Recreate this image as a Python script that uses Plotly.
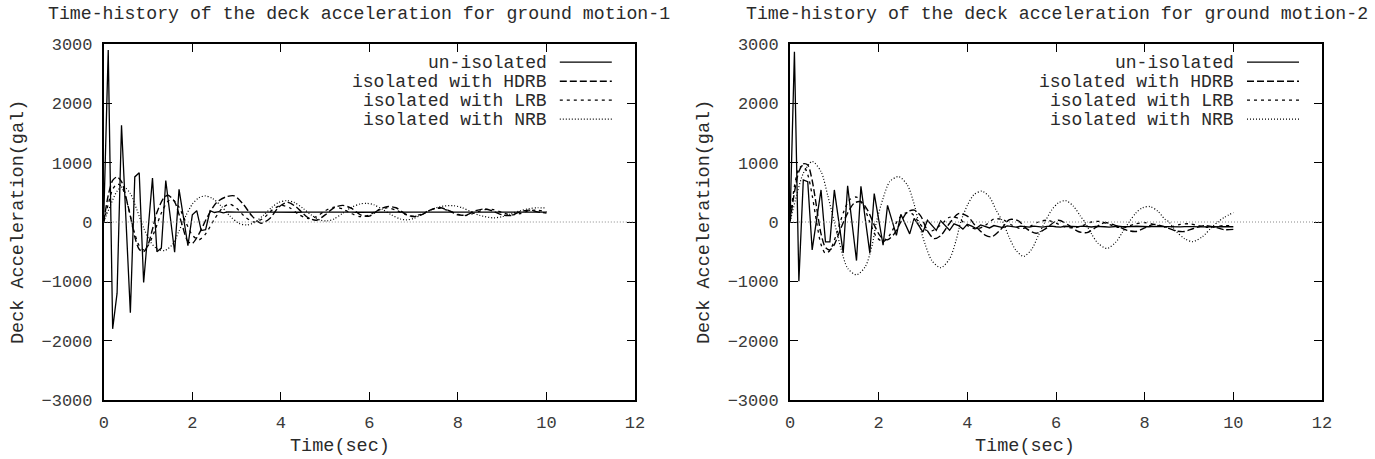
import plotly.graph_objects as go

# ---------------- data ----------------
TIME_FINE = [0.0, 0.1, 0.2, 0.3, 0.4, 0.5, 0.6, 0.7, 0.8, 0.9,
             1.0, 1.1, 1.2, 1.3, 1.4, 1.5, 1.6, 1.7, 1.8, 1.9,
             2.0, 2.1, 2.2, 2.3, 2.4, 2.5, 2.6, 2.7, 2.8, 2.9,
             3.0, 3.1, 3.2, 3.3, 3.4, 3.5, 3.6, 3.7, 3.8, 3.9,
             4.0, 4.1, 4.2, 4.3, 4.4, 4.5, 4.6, 4.7, 4.8, 4.9,
             5.0, 5.1, 5.2, 5.3, 5.4, 5.5, 5.6, 5.7, 5.8, 5.9,
             6.0, 6.1, 6.2, 6.3, 6.4, 6.5, 6.6, 6.7, 6.8, 6.9,
             7.0, 7.1, 7.2, 7.3, 7.4, 7.5, 7.6, 7.7, 7.8, 7.9,
             8.0, 8.1, 8.2, 8.3, 8.4, 8.5, 8.6, 8.7, 8.8, 8.9,
             9.0, 9.1, 9.2, 9.3, 9.4, 9.5, 9.6, 9.7, 9.8, 9.9, 10.0]

# ground motion-1
GM1_UNISO = [100, 2900, -1800, -1200, 1630, 50, -1530, 760, 830, -1020,
             -140, 740, -500, -440, 700, 100, -510, 550, 80, -400,
             120, 190, -145, -130, 190, 160, 175, 155, 170, 165,
             165, 168, 165, 163, 166, 165, 165, 167, 165, 164,
             165, 166, 165, 165, 164, 165, 166, 165, 165, 165,
             165, 164, 165, 166, 165, 165, 165, 164, 165, 165,
             166, 165, 165, 165, 164, 165, 165, 166, 165, 165,
             165, 165, 164, 165, 165, 166, 165, 165, 165, 164,
             165, 165, 166, 165, 165, 165, 164, 165, 165, 165,
             166, 165, 165, 165, 164, 165, 165, 166, 165, 165, 165]

GM1_HDRB_T = [0, 0.1, 0.2, 0.3, 0.4, 0.5, 0.6, 0.7, 0.8, 0.9, 1.0, 1.1, 1.2, 1.35, 1.45, 1.6, 1.75, 1.9, 2.0,
              2.15, 2.35, 2.55, 2.75, 2.95, 3.15, 3.35, 3.55, 3.75, 3.95, 4.15, 4.35, 4.6, 4.8, 5.0, 5.2, 5.4,
              5.6, 5.8, 6.0, 6.2, 6.4, 6.6, 6.8, 7.0, 7.2, 7.4, 7.6, 7.8, 8.0, 8.2, 8.4, 8.6, 8.8, 9.0, 9.2,
              9.4, 9.6, 9.8, 10.0]
GM1_HDRB = [0, 450, 700, 760, 680, 420, 100, -250, -460, -500, -380, -120, 160, 400, 450, 340, 0, -330, -360,
            -200, 100, 330, 420, 440, 300, 100, -20, 60, 250, 330, 250, 80, 30, 120, 240, 280,
            230, 120, 100, 200, 260, 240, 140, 90, 130, 210, 240, 190, 120, 120, 190, 220, 180, 120, 110,
            170, 200, 170, 150]

GM1_LRB_T = [0, 0.1, 0.2, 0.3, 0.4, 0.5, 0.6, 0.7, 0.8, 0.9, 1.0, 1.15, 1.3, 1.45, 1.55, 1.7, 1.85, 2.0, 2.15,
             2.3, 2.5, 2.7, 2.85, 3.0, 3.2, 3.4, 3.6, 3.8, 4.0, 4.2, 4.4, 4.6, 4.8, 5.0, 5.2, 5.4, 5.6, 5.8,
             6.0, 6.2, 6.4, 6.6, 6.8, 7.0, 7.2, 7.4, 7.6, 7.8, 8.0, 8.2, 8.4, 8.6, 8.8, 9.0, 9.2, 9.4, 9.6,
             9.8, 10.0]
GM1_LRB = [0, 300, 550, 640, 600, 400, 100, -200, -400, -470, -400, -150, 150, 350, 380, 250, 0, -220, -300,
           -200, 50, 250, 300, 230, 80, 0, 60, 200, 280, 240, 130, 60, 90, 190, 250, 220, 140, 90,
           120, 200, 240, 200, 130, 100, 140, 210, 230, 190, 130, 110, 160, 210, 210, 160, 120, 140, 190,
           200, 170]

GM1_NRB_T = [0, 0.15, 0.3, 0.44, 0.6, 0.75, 0.9, 1.05, 1.2, 1.38, 1.55, 1.7, 1.85, 2.0, 2.15, 2.29, 2.45, 2.65,
             2.85, 3.05, 3.23, 3.4, 3.6, 3.8, 3.95, 4.13, 4.3, 4.5, 4.7, 4.9, 5.05, 5.2, 5.4, 5.6, 5.8, 5.94,
             6.1, 6.3, 6.5, 6.7, 6.85, 7.0, 7.2, 7.4, 7.6, 7.9, 8.1, 8.3, 8.5, 8.8, 9.0, 9.2, 9.4, 9.6, 9.8, 10.0]
GM1_NRB = [0, 280, 520, 600, 480, 200, -100, -330, -450, -480, -380, -150, 100, 300, 410, 440, 400, 270,
           100, -20, -50, -10, 110, 250, 330, 360, 330, 230, 110, 30, 20, 50, 150, 250, 305, 315,
           290, 210, 120, 50, 35, 60, 130, 210, 260, 275, 240, 170, 110, 70, 90, 140, 190, 225, 240, 235]

# ground motion-2
GM2_UNISO = [0, 2870, -1000, 710, 680, -470, 40, 540, -335, -335,
             540, 0, -520, 610, 0, -650, 600, 40, -520, 480,
             40, -390, 280, 30, -225, 130, -30, -200, 60, -60,
             -170, 30, -60, -140, 20, -60, -140, -30, -60, -120,
             -40, -70, -110, -50, -80, -100, -60, -80, -95, -65,
             -75, -85, -70, -80, -85, -70, -75, -85, -75, -70,
             -80, -85, -72, -75, -82, -78, -70, -80, -84, -75,
             -72, -80, -85, -76, -72, -80, -84, -78, -72, -78,
             -84, -80, -74, -76, -82, -80, -75, -78, -82, -78,
             -74, -78, -82, -80, -76, -78, -82, -80, -78, -80, -80]

GM2_HDRB_T = [0, 0.1, 0.2, 0.3, 0.4, 0.5, 0.6, 0.7, 0.8, 0.9, 1.0, 1.15, 1.3, 1.45, 1.6, 1.75, 1.9, 2.05, 2.2,
              2.35, 2.5, 2.65, 2.8, 2.95, 3.1, 3.25, 3.4, 3.6, 3.8, 4.0, 4.2, 4.4, 4.55, 4.75, 4.95, 5.15,
              5.35, 5.55, 5.75, 6.05, 6.3, 6.5, 6.7, 6.9, 7.1, 7.35, 7.6, 7.8, 8.0, 8.2, 8.45, 8.7, 8.9, 9.1,
              9.35, 9.6, 9.8, 10.0]
GM2_HDRB = [0, 500, 850, 980, 960, 700, 250, -200, -430, -470, -380, -100, 150, 320, 340, 200, -50, -250, -300,
            -200, 0, 170, 200, 100, -150, -280, -230, -20, 140, 100, -80, -220, -250, -130, 40, 20,
            -120, -190, -120, 30, -60, -160, -180, -90, -10, -60, -140, -160, -100, -40, -80, -150, -160, -110,
            -60, -90, -130, -125]

GM2_LRB_T = [0, 0.1, 0.2, 0.3, 0.4, 0.5, 0.6, 0.7, 0.8, 0.9, 1.05, 1.2, 1.35, 1.5, 1.65, 1.8, 1.95, 2.1, 2.25,
             2.45, 2.6, 2.75, 2.9, 3.05, 3.2, 3.4, 3.6, 3.8, 4.0, 4.2, 4.4, 4.6, 4.8, 5.0, 5.2, 5.4, 5.6, 5.8,
             6.0, 6.2, 6.4, 6.6, 6.8, 7.0, 7.2, 7.4, 7.6, 7.8, 8.0, 8.2, 8.4, 8.6, 8.8, 9.0, 9.2, 9.4, 9.6,
             9.8, 10.0]
GM2_LRB = [0, 600, 900, 950, 800, 450, 0, -380, -530, -480, -200, 150, 380, 420, 280, 0, -250, -330, -220,
           50, 150, 140, 0, -130, -150, -50, 80, 60, -60, -120, -60, 50, 40, -50, -110, -80, 0, 30,
           -20, -80, -100, -60, 0, 10, -40, -90, -80, -30, -10, -40, -80, -80, -40, -30, -60, -90, -80,
           -60, -70]

GM2_NRB_T = [0, 0.15, 0.3, 0.5, 0.7, 0.85, 1.0, 1.15, 1.3, 1.5, 1.7, 1.85, 1.95, 2.1, 2.25, 2.45, 2.65, 2.8,
             2.9, 3.05, 3.2, 3.4, 3.6, 3.75, 3.85, 4.0, 4.15, 4.33, 4.5, 4.65, 4.8, 4.95, 5.1, 5.27, 5.45,
             5.6, 5.75, 5.9, 6.05, 6.22, 6.4, 6.55, 6.65, 6.8, 6.95, 7.15, 7.35, 7.5, 7.65, 7.8, 7.95, 8.12,
             8.3, 8.45, 8.55, 8.7, 8.9, 9.08, 9.3, 9.5, 9.65, 9.8, 10.0]
GM2_NRB = [0, 450, 820, 1020, 850, 450, 0, -450, -780, -890, -750, -400, 0, 400, 680, 765, 620, 300,
           0, -380, -650, -770, -620, -300, 0, 280, 460, 520, 420, 200, 0, -270, -480, -580, -460,
           -230, 0, 200, 320, 360, 260, 100, 0, -200, -360, -445, -340, -170, 0, 150, 240, 260,
           180, 50, 0, -150, -280, -330, -250, -100, 0, 80, 160]

SERIES_NAMES = ["un-isolated", "isolated with HDRB", "isolated with LRB", "isolated with NRB"]
TITLES = ["Time-history of the deck acceleration for ground motion-1",
          "Time-history of the deck acceleration for ground motion-2"]
X_TICKS = [0, 2, 4, 6, 8, 10, 12]
Y_TICKS = [-3000, -2000, -1000, 0, 1000, 2000, 3000]

# ---------------- styling ----------------
W, H = 1375, 459
FONT = "Liberation Mono"
DASHES = ["solid", "7px,3px", "3px,4px", "1px,2px"]
WIDTHS = [1.3, 1.4, 1.3, 1.2]

LEFT = (103.8, 635.0)
RIGHT = (790.0, 1322.0)
TOP, BOT = 44.0, 400.0

def px(x):
    return x / W

def py(y):
    return 1 - y / H

fig = go.Figure()

panels = [
    ("x", "y", [(TIME_FINE, GM1_UNISO), (GM1_HDRB_T, GM1_HDRB), (GM1_LRB_T, GM1_LRB), (GM1_NRB_T, GM1_NRB)]),
    ("x2", "y2", [(TIME_FINE, GM2_UNISO), (GM2_HDRB_T, GM2_HDRB), (GM2_LRB_T, GM2_LRB), (GM2_NRB_T, GM2_NRB)]),
]

for xa, ya, series in panels:
    for i, (tt, vv) in enumerate(series):
        fig.add_trace(go.Scatter(
            x=tt, y=vv, mode="lines", name=SERIES_NAMES[i], showlegend=False,
            xaxis=xa, yaxis=ya,
            line=dict(color="black", width=WIDTHS[i], dash=DASHES[i],
                      shape="linear" if i == 0 else "spline", smoothing=0.8),
        ))

axis_common = dict(
    showgrid=False, zeroline=False, showline=True, linecolor="black", linewidth=1.8,
    mirror="allticks", ticks="inside", ticklen=8, tickwidth=1, tickcolor="black",
    tickfont=dict(family=FONT, size=17, color="#3a3a3a"), automargin=False,
)

fig.update_layout(
    width=W, height=H, margin=dict(l=0, r=0, t=0, b=0, pad=0),
    paper_bgcolor="white", plot_bgcolor="white", showlegend=False,
    xaxis=dict(domain=[px(LEFT[0]), px(LEFT[1])], range=[0, 12], tickvals=X_TICKS,
               anchor="y", ticklabelstandoff=6, **axis_common),
    yaxis=dict(domain=[py(BOT), py(TOP)], range=[-3000, 3000], tickvals=Y_TICKS,
               anchor="x", ticklabelstandoff=6, **axis_common),
    xaxis2=dict(domain=[px(RIGHT[0]), px(RIGHT[1])], range=[0, 12], tickvals=X_TICKS,
                anchor="y2", ticklabelstandoff=6, **axis_common),
    yaxis2=dict(domain=[py(BOT), py(TOP)], range=[-3000, 3000], tickvals=Y_TICKS,
                anchor="x2", ticklabelstandoff=6, **axis_common),
)

annotations = []
shapes = []
text_font = dict(family=FONT, size=18.5, color="#2a2a2a")
key_font = dict(family=FONT, size=18, color="#2a2a2a")
title_font = dict(family=FONT, size=18.2, color="#2a2a2a")
for k, (xa, ya, frame, tcx, xlab_cx) in enumerate([
        ("x", "y", LEFT, 359, 340), ("x2", "y2", RIGHT, 1057, 1025)]):
    annotations.append(dict(text=TITLES[k], x=px(tcx), y=py(14), xref="paper", yref="paper",
                            showarrow=False, xanchor="center", yanchor="middle", font=title_font,
                            borderpad=0))
    annotations.append(dict(text="Time(sec)", x=px(xlab_cx), y=py(446), xref="paper", yref="paper",
                            showarrow=False, xanchor="center", yanchor="middle", font=text_font))
    yx = 18 if k == 0 else 704
    annotations.append(dict(text="Deck Acceleration(gal)", x=px(yx), y=py(222), xref="paper", yref="paper",
                            showarrow=False, xanchor="center", yanchor="middle", textangle=-90, font=text_font))
    shapes.append(dict(type="line", xref=f"{xa} domain", yref=ya, x0=0, x1=1, y0=0, y1=0,
                       line=dict(color="#888888", width=1, dash="1px,2px")))
    text_right = frame[0] + 444 if k == 0 else frame[0] + 445
    for i, name in enumerate(SERIES_NAMES):
        ry = 62.2 + i * 19.0
        annotations.append(dict(text=name, x=px(text_right), y=py(ry), xref="paper", yref="paper",
                                showarrow=False, xanchor="right", yanchor="middle", font=key_font,
                                height=15, valign="middle", borderpad=0))
        shapes.append(dict(type="line", xref="paper", yref="paper",
                           x0=px(text_right + 12), x1=px(text_right + 64), y0=py(ry), y1=py(ry),
                           line=dict(color="black", width=WIDTHS[i], dash=DASHES[i])))

fig.update_layout(annotations=annotations, shapes=shapes)
fig.write_html(
    "out.html",
    config={"displayModeBar": False},
    post_script="document.documentElement.style.margin='0';document.body.style.margin='0';"
                "document.body.style.padding='0';document.body.style.overflow='hidden';",
)
